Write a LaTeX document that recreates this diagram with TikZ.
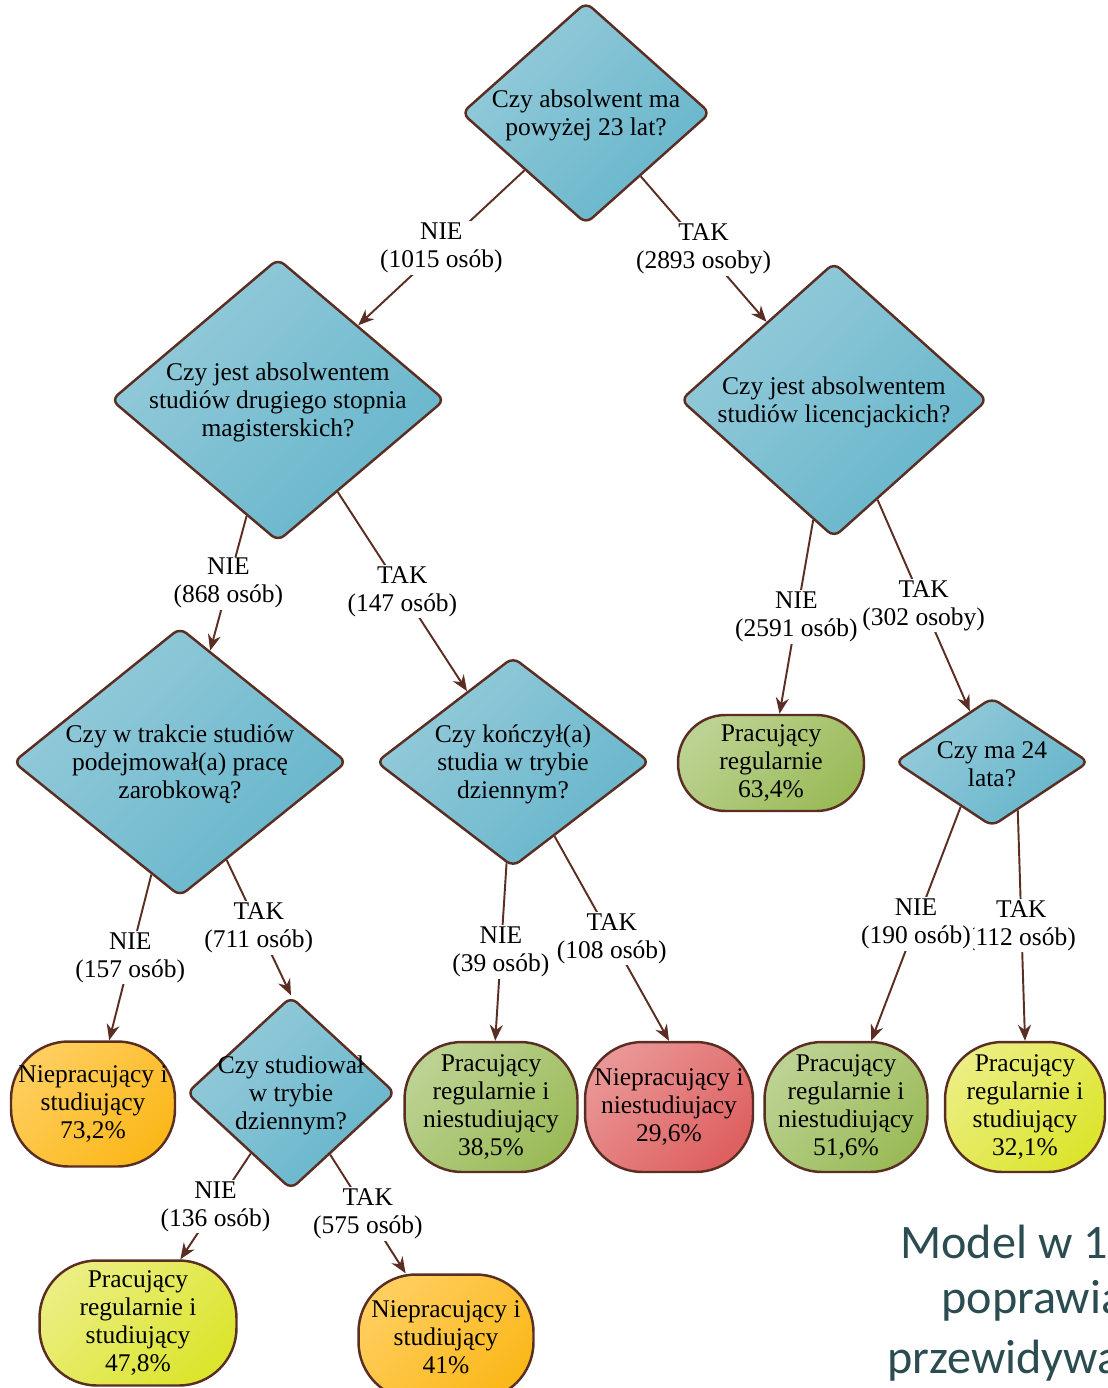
\documentclass[tikz,border=0pt]{standalone}
\usepackage{fontspec}
\setmainfont{Liberation Serif}
\newfontfamily\notefont{Carlito}
\usetikzlibrary{arrows.meta, positioning, shapes.geometric, calc}
\definecolor{lineBrown}{HTML}{5A2E22}
\definecolor{diaLight}{HTML}{95CBDA}
\definecolor{diaDark}{HTML}{66B5CB}
\definecolor{greenLight}{HTML}{BCD292}
\definecolor{greenDark}{HTML}{9BBB59}
\definecolor{orangeLight}{HTML}{FFCE5E}
\definecolor{orangeDark}{HTML}{FBB81A}
\definecolor{redLight}{HTML}{EA9696}
\definecolor{redDark}{HTML}{DE6060}
\definecolor{yellowLight}{HTML}{EBEE80}
\definecolor{yellowDark}{HTML}{DCE52E}
\definecolor{noteTeal}{HTML}{2B4C50}
\newcommand\qfont{\fontsize{14.5}{15.9}\selectfont}

\begin{document}
\begin{tikzpicture}[
    x=0.02cm, y=-0.02cm,
    dia/.style={diamond, draw=lineBrown, line width=1.4pt, rounded corners=0.16cm,
                top color=diaLight, bottom color=diaDark, shading angle=45,
                inner sep=0pt},
    qtxt/.style={align=center, font=\qfont, yshift=-0.04cm},
    leaf/.style={rectangle, rounded corners=1.15cm, draw=lineBrown, line width=1.4pt,
                 top color=#1Light, bottom color=#1Dark, shading angle=45,
                 align=center, inner sep=1pt, font=\qfont},
    lbl/.style={fill=white, align=center, inner sep=1pt, font=\qfont},
    edge/.style={draw=lineBrown, line width=1.1pt,
                 -{Stealth[length=0.32cm, width=0.26cm]}},
    note/.style={anchor=base west, inner sep=0pt, text=noteTeal,
                 font=\notefont\fontsize{27.4}{30}\selectfont},
  ]
    \useasboundingbox (0,0) rectangle (1107,1388);

    % Pytania
    \node[dia, minimum width=4.98cm, minimum height=4.44cm] (p1) at (586,113) {};
    \node[qtxt] (p1t) at (p1) {Czy absolwent ma\\powyżej 23 lat?};

    \node[dia, minimum width=6.68cm, minimum height=5.66cm] (p2) at (278,400) {};
    \node[qtxt] (p2t) at (p2) {Czy jest absolwentem\\studiów drugiego stopnia\\magisterskich?};

    \node[dia, minimum width=6.14cm, minimum height=5.50cm] (p3) at (834,400) {};
    \node[qtxt] (p3t) at (p3) {Czy jest absolwentem\\studiów licencjackich?};

    \node[dia, minimum width=6.68cm, minimum height=5.38cm] (p4) at (180,762) {};
    \node[qtxt] (p4t) at (p4) {Czy w trakcie studiów\\podejmował(a) pracę\\zarobkową?};

    \node[dia, minimum width=5.48cm, minimum height=4.20cm] (p5) at (513,762) {};
    \node[qtxt] (p5t) at (p5) {Czy kończył(a)\\studia w trybie\\dziennym?};

    \node[dia, minimum width=3.88cm, minimum height=2.58cm] (p6) at (992,762) {};
    \node[qtxt] (p6t) at (p6) {Czy ma 24\\lata?};

    \node[dia, minimum width=4.18cm, minimum height=3.86cm] (p7) at (291,1093) {};
    \node[qtxt] (p7t) at (p7) {Czy studiował\\w trybie\\dziennym?};

    % Wyniki
    \node[leaf=green, rounded corners=0.95cm, minimum width=3.72cm, minimum height=1.92cm]
      (w1) at (771,763) {Pracujący\\regularnie\\63,4\%};
    \node[leaf=orange, minimum width=3.28cm, minimum height=2.50cm] (w2) at (93,1104)
      {Niepracujący i\\studiujący\\73,2\%};
    \node[leaf=green, minimum width=3.46cm, minimum height=2.60cm] (w3) at (491,1107)
      {Pracujący\\regularnie i\\niestudiujący\\38,5\%};
    \node[leaf=red, minimum width=3.36cm, minimum height=2.60cm] (w4) at (669,1107)
      {Niepracujący i\\niestudiujacy\\29,6\%};
    \node[leaf=green, minimum width=3.26cm, minimum height=2.60cm] (w5) at (846,1107)
      {Pracujący\\regularnie i\\niestudiujący\\51,6\%};
    \node[leaf=yellow, minimum width=3.20cm, minimum height=2.60cm] (w6) at (1025,1107)
      {Pracujący\\regularnie i\\studiujący\\32,1\%};
    \node[leaf=yellow, minimum width=3.94cm, minimum height=2.50cm] (w7) at (138,1323)
      {Pracujący\\regularnie i\\studiujący\\47,8\%};
    \node[leaf=orange, minimum width=3.50cm, minimum height=2.50cm] (w8) at (446,1337)
      {Niepracujący i\\studiujący\\41\%};

    % Krawedzie
    \draw[edge] (p1) -- node[lbl] (p1nie) {NIE\\(1015 osób)} (p2);
    \draw[edge] (p1) -- node[lbl] (p1tak) {TAK\\(2893 osoby)} (p3);
    \draw[edge] (p2) -- node[lbl] (p2nie) {NIE\\(868 osób)} (p4);
    \draw[edge] (p2) -- node[lbl] (p2tak) {TAK\\(147 osób)} (p5);
    \draw[edge] (p3) -- node[lbl] (p3nie) {NIE\\(2591 osób)} (w1);
    \draw[edge] (p3) -- node[lbl] (p3tak) {TAK\\(302 osoby)} (p6);
    \draw[edge] (p4) -- node[lbl] (p4nie) {NIE\\(157 osób)} (w2);
    \draw[edge] (p4) -- node[lbl] (p4tak) {TAK\\(711 osób)} (p7.north);
    \draw[edge] (p5) -- node[lbl] (p5nie) {NIE\\(39 osób)} (w3);
    \draw[edge] (p5) -- node[lbl] (p5tak) {TAK\\(108 osób)} (w4.north);
    \draw[edge] (p6.-62) -- node[lbl] (p6tak) {TAK\\(112 osób)} (w6.north);
    \draw[edge] (p6.-125) -- node[lbl] (p6nie) {NIE\\(190 osób)} (w5);
    \draw[edge] (p7) -- node[lbl] (p7nie) {NIE\\(136 osób)} (w7);
    \draw[edge] (p7) -- node[lbl] (p7tak) {TAK\\(575 osób)} (w8);

    % Opis
    \node[note] (n1) at (900,1258) {Model w 1};
    \node[note] (n2) at (941,1313) {poprawia};
    \node[note] (n3) at (887,1373) {przewidywa};
\end{tikzpicture}
\end{document}
